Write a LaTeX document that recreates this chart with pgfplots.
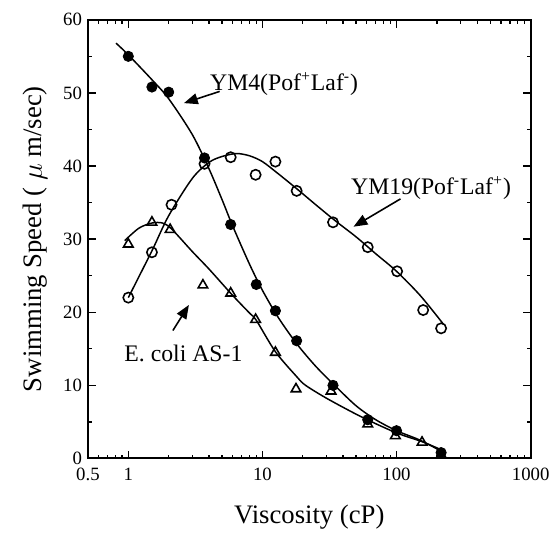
\documentclass[border=0pt]{standalone}
\usepackage{fontspec}
\setmainfont{Liberation Serif}
\usepackage{pgfplots}
\pgfplotsset{compat=1.18}
\usetikzlibrary{arrows.meta}

\begin{document}
\begin{tikzpicture}
\begin{axis}[
  scale only axis,
  width=224pt, height=222pt,
  xmode=log, xmin=0.5, xmax=1000, ymin=0, ymax=60,
  xtick={0.5,1,10,100,1000},
  xticklabels={0.5,1,10,100,1000},
  minor xtick={0.6,0.7,0.8,0.9,2,3,4,5,6,7,8,9,20,30,40,50,60,70,80,90,200,300,400,500,600,700,800,900},
  ytick={0,10,...,60},
  minor ytick={5,15,...,55},
  tick align=inside,
  major tick length=4pt, minor tick length=2pt,
  every tick/.style={line width=0.7pt, black},
  axis line style={line width=1pt},
  /pgf/number format/assume math mode=true,
  ticklabel style={font=\fontsize{9.5}{11}\selectfont},
  xticklabel style={yshift=-1.5pt},
  yticklabel style={xshift=0.5pt},
  xlabel={Viscosity (cP)},
  ylabel={Swimming Speed ( $\mu$ m/sec)},
  label style={font=\fontsize{13.5}{16}\selectfont},
  xlabel style={yshift=-5pt},
  ylabel style={yshift=1pt},
  clip=false,
]
% fitted curves
\addplot[black, line width=0.75pt, smooth] coordinates {
  (0.81,56.8) (1,55.2) (1.5,51.8) (2,49.2) (3,44.3) (4,39.6) (5,35.4) (6,31.8)
  (8,26.6) (10,23) (13,19.4) (18,15.7) (25,12.6) (35,9.9) (50,7.2) (70,5.3)
  (100,3.8) (150,2.5) (215,1.0)};
\addplot[black, line width=0.75pt, smooth] coordinates {
  (1,22) (1.5,28.4) (2,33.2) (3,38.3) (4,40.5) (5,41.3) (6.4,41.7) (8,41.4)
  (10,40.6) (13,39.0) (18,36.9) (25,34.7) (35,32.5) (50,30.3) (70,28)
  (100,25.6) (150,22.3) (223,18.4)};
\addplot[black, line width=0.75pt, smooth] coordinates {
  (0.94,29.8) (1.2,31.5) (1.5,32.2) (1.8,32.2) (2.1,31.4) (3,28.3) (4,25.9)
  (6,22.3) (8,19.9) (9,18.9) (12.5,14.6) (18,11.2) (21,10.0) (31,8.1)
  (56,5.6) (100,3.5) (155,2.3) (215,1.2)};
% YM4 (filled circles)
\addplot[only marks, mark=*, mark size=2.6pt, black] coordinates {
  (1,55) (1.5,50.8) (2,50.1) (3.7,41.1) (5.8,32) (9,23.8) (12.5,20.2)
  (18,16.1) (33.6,10) (61,5.3) (100,3.8) (215,0.8)};
% YM19 (open circles)
\addplot[only marks, mark=o, mark size=2.6pt, black, mark options={line width=0.8pt, fill=white}] coordinates {
  (1,22) (1.5,28.2) (2.1,34.7) (3.7,40.3) (5.8,41.2) (8.9,38.8) (12.5,40.6)
  (18,36.6) (33.6,32.3) (61,28.9) (101,25.6) (158,20.3) (215,17.8)};
% E. coli AS-1 (open triangles)
\addplot[only marks, mark=triangle, mark size=2.8pt, black, mark options={line width=0.8pt, fill=white}] coordinates {
  (1,29.3) (1.5,32.3) (2.05,31.3) (3.6,23.7) (5.8,22.6) (8.9,19) (12.5,14.5)
  (17.8,9.5) (32.5,9.2) (61,4.7) (98,3.1) (155,2.2) (215,0.5)};
% annotations
\node[anchor=west, inner sep=0pt, font=\fontsize{12}{14}\selectfont] at (axis cs:4.05,51.2) {YM4(Pof\textsuperscript{+}Laf\textsuperscript{-})};
\draw[line width=0.8pt, -{Triangle[length=7pt,width=5.5pt]}] (axis cs:4.8,50.2) -- (axis cs:2.6,48.6);
\node[anchor=west, inner sep=0pt, font=\fontsize{12}{14}\selectfont] at (axis cs:45.6,37) {YM19(Pof\textsuperscript{-}Laf\textsuperscript{+})};
\draw[line width=0.8pt, -{Triangle[length=7pt,width=5.5pt]}] (axis cs:107,35.5) -- (axis cs:47.8,31.7);
\node[anchor=west, inner sep=0pt, font=\fontsize{12}{14}\selectfont] at (axis cs:0.93,14.4) {E. coli AS-1};
\draw[line width=0.8pt, -{Triangle[length=7pt,width=5.5pt]}] (axis cs:2.15,17.5) -- (axis cs:2.83,21);
\end{axis}
\path ([shift={(-44.5pt,-34pt)}]current axis.south west) rectangle ([shift={(9.5pt,10pt)}]current axis.north east);
\end{tikzpicture}
\end{document}
